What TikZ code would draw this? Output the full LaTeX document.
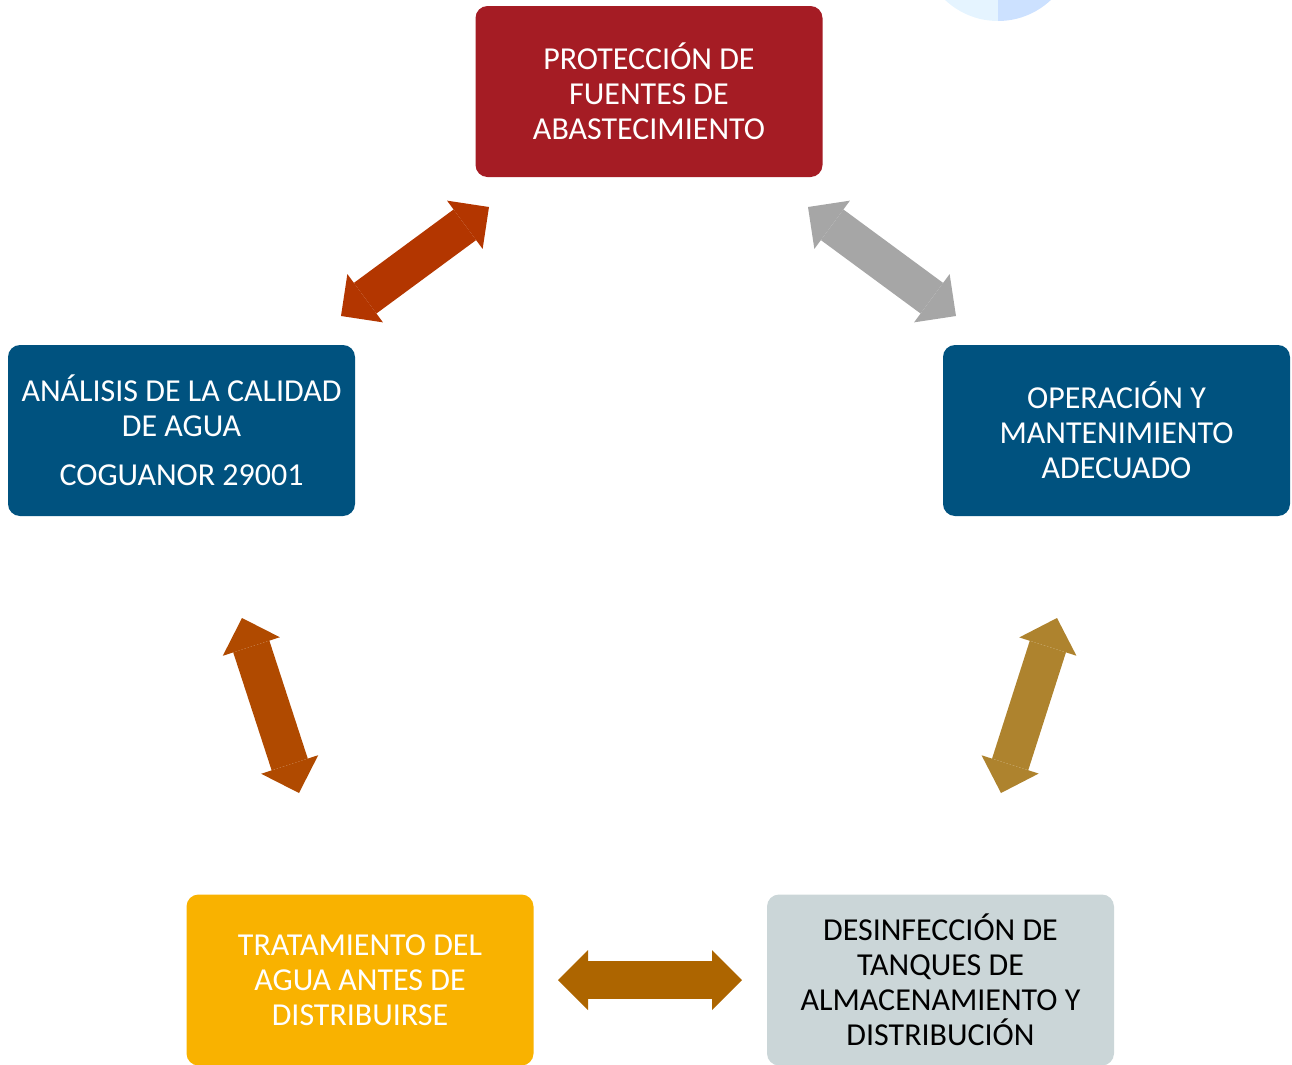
\documentclass[tikz,border=0pt]{standalone}
\usepackage{fontspec}
\setmainfont{Carlito}
\usepackage{xcolor}
\usepackage{tikz}
\usetikzlibrary{positioning,arrows.meta}
\definecolor{rojo}{HTML}{A51C24}
\definecolor{azul}{HTML}{00527F}
\definecolor{amarillo}{HTML}{F9B200}
\definecolor{gris}{HTML}{CBD6D8}
\definecolor{fRoja}{HTML}{B33600}
\definecolor{fGris}{HTML}{A6A6A6}
\definecolor{fCafe}{HTML}{B04A00}
\definecolor{fOro}{HTML}{AE832E}
\definecolor{fNaranja}{HTML}{AD6500}
\definecolor{cieloA}{HTML}{E5F4FF}
\definecolor{cieloB}{HTML}{CCE1FF}

\begin{document}
\begin{tikzpicture}[caja/.style = {rectangle, rounded corners=0.12cm, minimum width=3.47cm, minimum height=1.71cm, inner sep=0pt, align=center, text=white, font=\fontsize{9.1pt}{9.96pt}\selectfont},
                    flecha/.style = {line width=0.38cm, {Triangle[width=0.6cm,length=0.3cm,line width=0pt]}-{Triangle[width=0.6cm,length=0.3cm,line width=0pt]}}]
					\useasboundingbox (0,0) rectangle (12.92,-10.65);
					
					\fill[cieloA] (9.98,0.56) -- ++(0,-0.77) arc[start angle=270, end angle=90, radius=0.77] -- cycle;
					\fill[cieloB] (9.98,0.56) -- ++(0,-0.77) arc[start angle=270, end angle=450, radius=0.77] -- cycle;
					
					\node[caja, fill=rojo] (proteccion) at (6.49, -0.915) {PROTECCIÓN DE\\FUENTES DE\\ABASTECIMIENTO};
					\node[caja, fill=azul] (analisis) at (1.815, -4.305) {ANÁLISIS DE LA CALIDAD\\DE AGUA\\[0.14cm]COGUANOR 29001};
					\node[caja, fill=azul] (operacion) at (11.165, -4.305) {OPERACIÓN Y\\MANTENIMIENTO\\ADECUADO};
					\node[caja, fill=amarillo] (tratamiento) at (3.60, -9.80) {TRATAMIENTO DEL\\AGUA ANTES DE\\DISTRIBUIRSE};
					\node[caja, fill=gris, text=black] (desinfeccion) at (9.405, -9.80) {DESINFECCIÓN DE\\TANQUES DE\\ALMACENAMIENTO Y\\DISTRIBUCIÓN};
					
					\coordinate (a1) at (3.41, -3.16);
					\coordinate (b1) at (4.89, -2.07);
					\coordinate (a2) at (8.08, -2.07);
					\coordinate (b2) at (9.56, -3.16);
					\coordinate (a3) at (2.42, -6.18);
					\coordinate (b3) at (2.99, -7.93);
					\coordinate (a4) at (10.57, -6.18);
					\coordinate (b4) at (10.01, -7.93);
					\coordinate (a5) at (5.58, -9.80);
					\coordinate (b5) at (7.42, -9.80);
					
					\draw[flecha, draw=fRoja, fill=fRoja] (a1) to (b1);
					\draw[flecha, draw=fGris, fill=fGris] (a2) to (b2);
					\draw[flecha, draw=fCafe, fill=fCafe] (a3) to (b3);
					\draw[flecha, draw=fOro, fill=fOro] (a4) to (b4);
					\draw[flecha, draw=fNaranja, fill=fNaranja] (a5) to (b5);
				\end{tikzpicture}
\end{document}
